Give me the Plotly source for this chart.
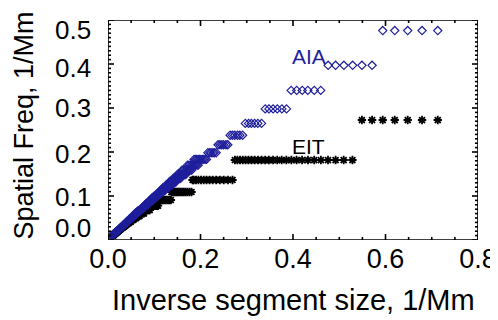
import plotly.graph_objects as go

# ---------------- data ----------------
# AIA: diamonds, one row of x values per spatial-frequency level
aia_levels = [
    0.476, 0.397, 0.340, 0.298, 0.265, 0.238, 0.2165, 0.1984,
    0.1832, 0.1701, 0.1587, 0.1488, 0.1401, 0.1323, 0.1253, 0.1190,
    0.1134, 0.1082, 0.1035, 0.0992, 0.0952, 0.0916, 0.0882, 0.0850,
    0.0821, 0.0794, 0.0768, 0.0744, 0.0722, 0.0700, 0.0661, 0.0627,
    0.0595, 0.0554, 0.0518, 0.0476, 0.0433, 0.0397, 0.0361, 0.0326,
    0.0298, 0.0265, 0.0238, 0.0207, 0.0183, 0.0159, 0.0132, 0.0113,
    0.0099,
]
aia_rows = [
    [0.713, 0.679, 0.648, 0.620, 0.594],
    [0.571, 0.549, 0.529, 0.510, 0.492, 0.476],
    [0.460, 0.446, 0.432, 0.420, 0.408, 0.396],
    [0.386, 0.376, 0.366, 0.357, 0.348, 0.340],
    [0.332, 0.324, 0.317, 0.310, 0.304, 0.297],
    [0.291, 0.285, 0.280, 0.274, 0.269, 0.264],
    [0.259, 0.255, 0.250, 0.246, 0.242, 0.238],
    [0.234, 0.230, 0.227, 0.223, 0.220, 0.216],
    [0.213, 0.210, 0.207, 0.204, 0.201, 0.198, 0.195, 0.192, 0.189, 0.186],
    [0.195, 0.193, 0.190, 0.188, 0.185, 0.183, 0.181, 0.178, 0.175, 0.172],
    [0.181, 0.178, 0.176, 0.174, 0.172, 0.170, 0.168, 0.165, 0.162, 0.160],
    [0.168, 0.166, 0.164, 0.162, 0.160, 0.159, 0.157, 0.155, 0.152, 0.150],
    [0.157, 0.155, 0.153, 0.152, 0.150, 0.149, 0.147, 0.145, 0.143, 0.141],
    [0.147, 0.146, 0.144, 0.143, 0.142, 0.140, 0.139, 0.137, 0.135, 0.133],
    [0.139, 0.137, 0.136, 0.135, 0.134, 0.132, 0.131, 0.129, 0.127, 0.126],
    [0.131, 0.130, 0.129, 0.128, 0.127, 0.125, 0.124, 0.122, 0.120, 0.119],
    [0.124, 0.122, 0.119, 0.117, 0.114],
    [0.118, 0.116, 0.113, 0.111, 0.109],
    [0.112, 0.110, 0.108, 0.106, 0.104],
    [0.107, 0.105, 0.103, 0.101, 0.099],
    [0.1025, 0.101, 0.099, 0.097, 0.095],
    [0.098, 0.097, 0.095, 0.0935, 0.092],
    [0.0945, 0.093, 0.0915, 0.090, 0.0885],
    [0.091, 0.0895, 0.088, 0.0865, 0.085],
    [0.0875, 0.086, 0.085, 0.0835, 0.082],
    [0.0845, 0.082, 0.080],
    [0.0815, 0.0795, 0.0775],
    [0.079, 0.077, 0.075],
    [0.076, 0.0745, 0.073],
    [0.074, 0.072, 0.070],
    [0.0695, 0.068, 0.066, 0.0645],
    [0.066, 0.0645, 0.0625, 0.061],
    [0.062, 0.061, 0.0595, 0.058],
    [0.0578, 0.0566, 0.0555, 0.054],
    [0.0538, 0.053, 0.052, 0.0505],
    [0.049, 0.048, 0.0465],
    [0.0445, 0.0435, 0.042],
    [0.0406, 0.0395, 0.0385],
    [0.037, 0.036, 0.035],
    [0.0332, 0.0325, 0.0315],
    [0.0303, 0.029],
    [0.0268, 0.026],
    [0.0241, 0.0233],
    [0.0209, 0.0202],
    [0.0185, 0.0179],
    [0.0160, 0.0155],
    [0.0133, 0.0129],
    [0.0114, 0.0111],
    [0.0100, 0.0097],
]

# EIT: asterisks, one row of x values per spatial-frequency level
eit_levels = [
    0.2727, 0.1818, 0.1364, 0.1091, 0.0909, 0.0779, 0.0682, 0.0606,
    0.0545, 0.0496, 0.0455, 0.0420, 0.0390, 0.0364, 0.0341, 0.0321,
    0.0303, 0.0287, 0.0273, 0.0248, 0.0227, 0.0210, 0.0195, 0.0176,
    0.0160, 0.0144, 0.0130, 0.0116, 0.0105, 0.0099,
]
eit_rows = [
    [0.713, 0.679, 0.648, 0.620, 0.594, 0.571, 0.549],
    [0.5285, 0.5096, 0.4921, 0.4757, 0.4603, 0.4459, 0.4324, 0.4197, 0.4077,
     0.3964, 0.3857, 0.3755, 0.3659, 0.3568, 0.3480, 0.3398, 0.3319, 0.3243,
     0.3171, 0.3102, 0.3036, 0.2973, 0.2912, 0.2854, 0.2798, 0.2744],
    [0.2692, 0.2595, 0.2504, 0.2419, 0.2339, 0.2265, 0.2195, 0.2130, 0.2068,
     0.2010, 0.1955, 0.1903, 0.1853, 0.1829],
    [0.1806, 0.1762, 0.1719, 0.1679, 0.1640, 0.1603, 0.1568, 0.1534, 0.1502,
     0.1471, 0.1441, 0.1413, 0.1385, 0.1372],
    [0.1359, 0.1321, 0.1286, 0.1252, 0.1220, 0.1189, 0.1160, 0.1133, 0.1106, 0.1089],
    [0.1081, 0.1057, 0.1034, 0.1012, 0.0991, 0.0971, 0.0951, 0.0933, 0.0909],
    [0.0903, 0.0881, 0.0860, 0.0839, 0.0820, 0.0802, 0.0780],
    [0.0776, 0.0755, 0.0735, 0.0716, 0.0698, 0.0683],
    [0.0680, 0.0660, 0.0642, 0.0624, 0.0607],
    [0.0605, 0.0588, 0.0571, 0.0557, 0.0545],
    [0.0543, 0.0528, 0.0514, 0.0501, 0.0496],
    [0.0494, 0.0478, 0.0466, 0.0454],
    [0.0453, 0.0440, 0.0428, 0.0420],
    [0.0418, 0.0404, 0.0389],
    [0.0388, 0.0376, 0.0363],
    [0.0362, 0.0351, 0.0341],
    [0.0340, 0.0330, 0.0321],
    [0.0320, 0.0302],
    [0.0300, 0.0287],
    [0.0272, 0.0259],
    [0.0247, 0.0237],
    [0.0226, 0.0218],
    [0.0209, 0.0202],
    [0.0188, 0.0182],
    [0.0170, 0.0165],
    [0.0151, 0.0147],
    [0.0136, 0.0133],
    [0.0121, 0.0118],
    [0.0109, 0.0106],
    [0.0103, 0.0100],
]

x_range = [0.0, 0.8]
y_range = [0.0, 0.5]
x_ticks = [0.0, 0.2, 0.4, 0.6, 0.8]
x_tick_labels = ["0.0", "0.2", "0.4", "0.6", "0.8"]
y_ticks = [0.0, 0.1, 0.2, 0.3, 0.4, 0.5]
y_tick_labels = ["0.0", "0.1", "0.2", "0.3", "0.4", "0.5"]
y_label_shift = [12, -1, -2, 0, -4, -10]

x_title = "Inverse segment size, 1/Mm"
y_title = "Spatial Freq, 1/Mm"


def flatten(levels, rows):
    xs, ys = [], []
    for lev, row in zip(levels, rows):
        xs.extend(row)
        ys.extend([lev] * len(row))
    return xs, ys


aia_x, aia_y = flatten(aia_levels, aia_rows)
eit_x, eit_y = flatten(eit_levels, eit_rows)

FONT = "Liberation Sans, Arial, Helvetica, sans-serif"
NAVY = "#1f1f9c"

# plot-area size in pixels (for tick lengths)
PW, PH = 370, 220
x0, x1 = x_range
y0, y1 = y_range
px_x = (x1 - x0) / PW   # data units per pixel
px_y = (y1 - y0) / PH

# frame + inward ticks (IDL style), drawn as one line trace
fx = [x0, x1, x1, x0, x0, None]
fy = [y0, y0, y1, y1, y0, None]
for i in range(17):
    xv = x0 + i * 0.05
    ln = (6 if i % 4 == 0 else 3) * px_y
    fx += [xv, xv, None, xv, xv, None]
    fy += [y0, y0 + ln, None, y1, y1 - ln, None]
for i in range(51):
    yv = y0 + i * 0.01
    ln = (6 if i % 10 == 0 else 3) * px_x
    fx += [x0, x0 + ln, None, x1, x1 - ln, None]
    fy += [yv, yv, None, yv, yv, None]

fig = go.Figure()
fig.add_trace(go.Scatter(
    x=eit_x, y=eit_y, mode="markers", name="EIT",
    marker=dict(symbol="asterisk-open", size=7, color="black",
                line=dict(color="black", width=1.8)),
))
fig.add_trace(go.Scatter(
    x=aia_x, y=aia_y, mode="markers", name="AIA",
    marker=dict(symbol="diamond-open", size=6.3, color=NAVY,
                line=dict(color=NAVY, width=1.2)),
))
fig.add_trace(go.Scatter(
    x=fx, y=fy, mode="lines", name="frame", hoverinfo="skip",
    line=dict(color="black", width=1.6), cliponaxis=False,
    connectgaps=False,
))

fig.update_xaxes(
    range=x_range, tickvals=x_ticks, ticktext=x_tick_labels, ticks="",
    showgrid=False, zeroline=False, showline=False, automargin=False,
    tickfont=dict(family=FONT, size=27, color="black"),
)
fig.update_yaxes(
    range=y_range, tickvals=y_ticks, ticks="", showticklabels=False,
    showgrid=False, zeroline=False, showline=False, automargin=False,
)

annotations = []
for v, t, s in zip(y_ticks, y_tick_labels, y_label_shift):
    annotations.append(dict(
        xref="paper", yref="y", x=0, y=v, text=t, showarrow=False,
        xanchor="right", yanchor="middle", xshift=-15, yshift=s,
        font=dict(family=FONT, size=26, color="black"),
    ))
annotations.append(dict(
    xref="paper", yref="paper", x=0.5, y=0, text=x_title, showarrow=False,
    xanchor="center", yanchor="top", yshift=-42,
    font=dict(family=FONT, size=29, color="black"),
))
annotations.append(dict(
    xref="paper", yref="paper", x=0, y=0.52, text=y_title, showarrow=False,
    xanchor="center", yanchor="middle", xshift=-84, textangle=-90,
    font=dict(family=FONT, size=27, color="black"),
))
annotations.append(dict(
    xref="x", yref="y", x=0.4, y=0.416, text="AIA", showarrow=False,
    xanchor="left", yanchor="middle", xshift=-3,
    font=dict(family=FONT, size=21, color=NAVY),
))
annotations.append(dict(
    xref="x", yref="y", x=0.4, y=0.2136, text="EIT", showarrow=False,
    xanchor="left", yanchor="middle", xshift=-3,
    font=dict(family=FONT, size=21, color="black"),
))

# the page body adds an 8px offset, so the figure is 8px smaller on each side
fig.update_layout(
    width=490, height=312,
    margin=dict(l=100, r=20, t=12, b=80, pad=0),
    paper_bgcolor="white", plot_bgcolor="white",
    showlegend=False,
    annotations=annotations,
    font=dict(family=FONT, color="black"),
)

fig.write_html("out.html")
